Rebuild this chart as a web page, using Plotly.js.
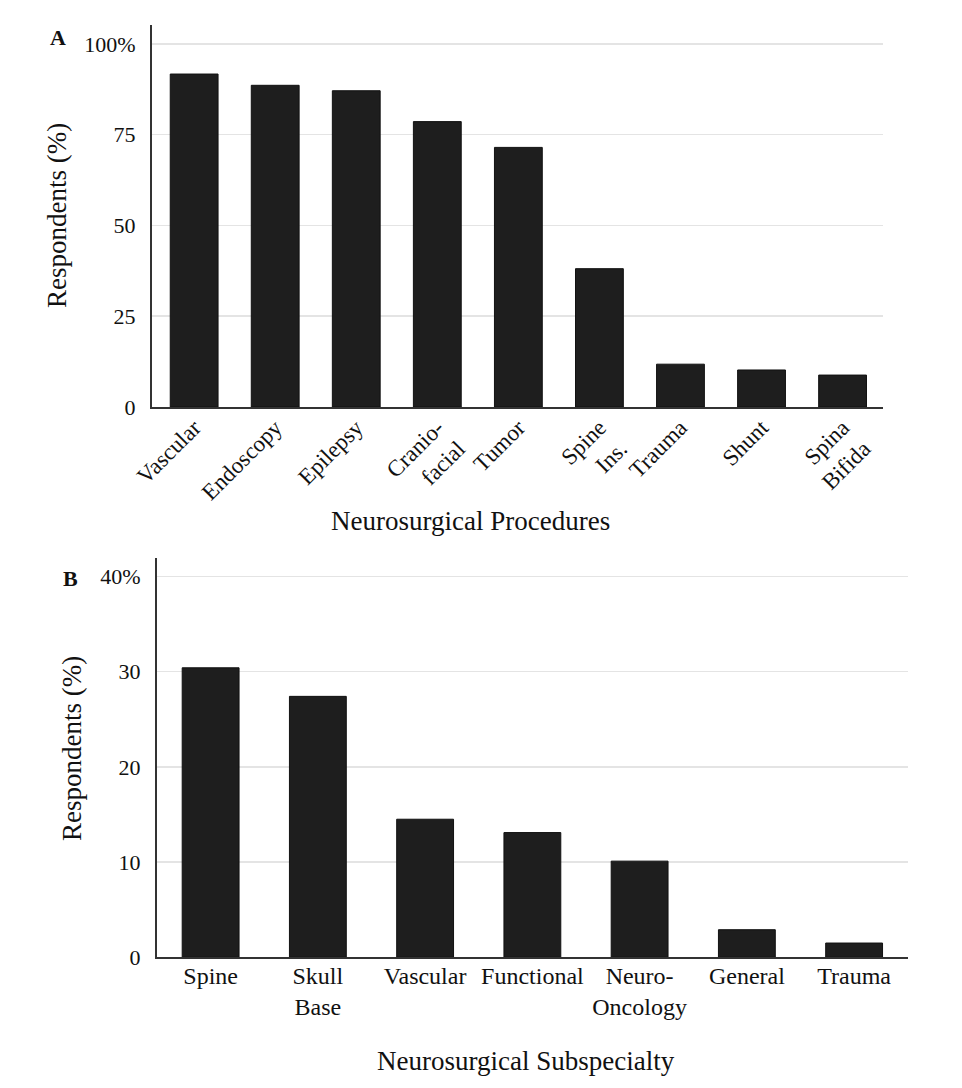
<!DOCTYPE html>
<html>
<head>
<meta charset="utf-8">
<script src="https://cdn.plot.ly/plotly-3.0.1.min.js"></script>
<style>
  html, body { margin: 0; padding: 0; background: #fff; }
  #chart { width: 962px; height: 1088px; }
</style>
</head>
<body>
<div id="chart"></div>
<script>
// Panel A: neurosurgical procedures
const procedures = ["Vascular", "Endoscopy", "Epilepsy", "Cranio-<br>facial", "Tumor", "Spine<br>Ins.", "Trauma", "Shunt", "Spina<br>Bifida"];
const procedureValues = [91.7, 88.6, 87.1, 78.6, 71.5, 38.1, 11.8, 10.2, 8.8];
const procTickVals = [0, 25, 50, 75, 100];
const procTickText = ["0", "25", "50", "75", "100%"];

// Panel B: neurosurgical subspecialty
const subspecialties = ["Spine", "Skull<br>Base", "Vascular", "Functional", "Neuro-<br>Oncology", "General", "Trauma"];
const subspecialtyValues = [30.4, 27.4, 14.5, 13.1, 10.1, 2.9, 1.5];
const subTickVals = [0, 10, 20, 30, 40];
const subTickText = ["0", "10", "20", "30", "40%"];

const FONT = "Liberation Serif, Times New Roman, serif";
const BAR = "#1e1e1e";

const traces = [
  {
    type: "bar", x: procedures, y: procedureValues, xaxis: "x", yaxis: "y",
    width: 0.59,
    marker: { color: BAR, line: { color: "#111", width: 1 } },
    hoverinfo: "x+y", showlegend: false
  },
  {
    type: "bar", x: subspecialties, y: subspecialtyValues, xaxis: "x2", yaxis: "y2",
    width: 0.53,
    marker: { color: BAR, line: { color: "#111", width: 1 } },
    hoverinfo: "x+y", showlegend: false
  }
];

const axisCommon = {
  showline: true, linecolor: "#333", linewidth: 2,
  ticks: "", zeroline: false
};

const layout = {
  width: 962, height: 1088,
  margin: { l: 0, r: 0, t: 0, b: 0 },
  paper_bgcolor: "#fff", plot_bgcolor: "#fff",
  font: { family: FONT, color: "#111" },
  xaxis: Object.assign({}, axisCommon, {
    domain: [0.158, 0.918], anchor: "y",
    type: "category", range: [-0.52, 8.5],
    tickangle: -45, showgrid: false,
    ticklabelstandoff: -4,
    tickfont: { family: FONT, size: 23, color: "#111" }
  }),
  yaxis: Object.assign({}, axisCommon, {
    domain: [0.6259, 0.977], anchor: "x",
    range: [0, 105.2],
    tickvals: procTickVals, ticktext: procTickText,
    showgrid: true, gridcolor: "#e4e4e4", gridwidth: 1.5,
    ticklabelstandoff: 10,
    tickfont: { family: FONT, size: 22, color: "#111" }
  }),
  xaxis2: Object.assign({}, axisCommon, {
    domain: [0.1632, 0.9436], anchor: "y2",
    type: "category", range: [-0.5, 6.5],
    tickangle: 0, showgrid: false,
    ticklabelstandoff: -4,
    tickfont: { family: FONT, size: 24, color: "#111" }
  }),
  yaxis2: Object.assign({}, axisCommon, {
    domain: [0.1201, 0.4869], anchor: "x2",
    range: [0, 41.9],
    tickvals: subTickVals, ticktext: subTickText,
    showgrid: true, gridcolor: "#e4e4e4", gridwidth: 1.5,
    ticklabelstandoff: 10,
    tickfont: { family: FONT, size: 22, color: "#111" }
  }),
  annotations: [
    { text: "<b>A</b>", xref: "paper", yref: "paper", x: 58 / 962, y: 1 - 37 / 1088,
      xanchor: "center", yanchor: "middle", showarrow: false,
      font: { family: FONT, size: 22, color: "#111" } },
    { text: "<b>B</b>", xref: "paper", yref: "paper", x: 70 / 962, y: 1 - 578 / 1088,
      xanchor: "center", yanchor: "middle", showarrow: false,
      font: { family: FONT, size: 22, color: "#111" } },
    { text: "Respondents (%)", xref: "paper", yref: "paper", x: 57 / 962, y: 1 - 216 / 1088,
      xanchor: "center", yanchor: "middle", textangle: -90, showarrow: false,
      font: { family: FONT, size: 27, color: "#111" } },
    { text: "Respondents (%)", xref: "paper", yref: "paper", x: 72 / 962, y: 1 - 749 / 1088,
      xanchor: "center", yanchor: "middle", textangle: -90, showarrow: false,
      font: { family: FONT, size: 27, color: "#111" } },
    { text: "Neurosurgical Procedures", xref: "paper", yref: "paper", x: 470 / 962, y: 1 - 521 / 1088,
      xanchor: "center", yanchor: "middle", showarrow: false,
      font: { family: FONT, size: 27, color: "#111" } },
    { text: "Neurosurgical Subspecialty", xref: "paper", yref: "paper", x: 526 / 962, y: 1 - 1061 / 1088,
      xanchor: "center", yanchor: "middle", showarrow: false,
      font: { family: FONT, size: 27, color: "#111" } }
  ]
};

Plotly.newPlot("chart", traces, layout, { displayModeBar: false, staticPlot: true });
</script>
</body>
</html>
